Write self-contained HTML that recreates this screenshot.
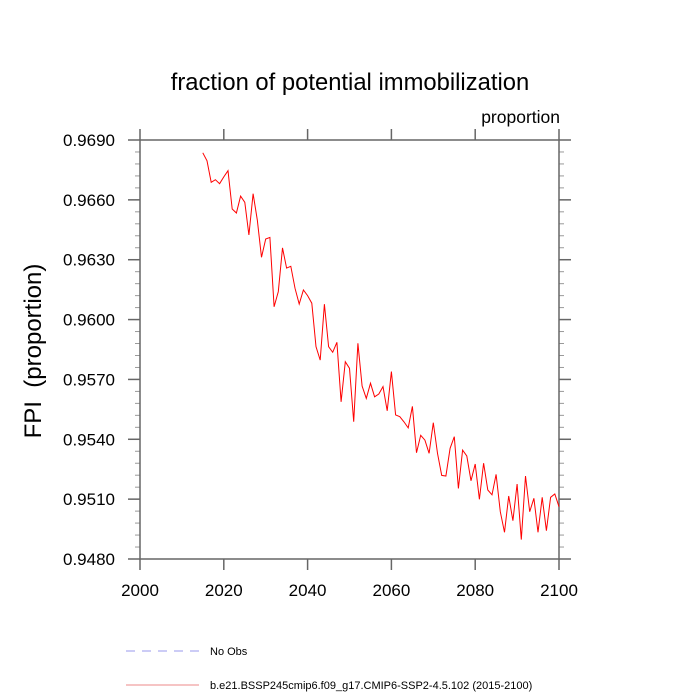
<!DOCTYPE html>
<html><head><meta charset="utf-8"><style>
body{margin:0;background:#fff;}
svg{display:block;font-family:"Liberation Sans",Arial,sans-serif;}
</style></head><body>
<svg id="chart" width="700" height="700" viewBox="0 0 700 700">
<text x="350" y="90" font-size="23.8" text-anchor="middle">fraction of potential immobilization</text>
<text x="560" y="123" font-size="17.5" text-anchor="end">proportion</text>
<text transform="translate(41,351) rotate(-90)" font-size="24" text-anchor="middle">FPI&#160;&#160;(proportion)</text>
<g id="axes"></g>
<g id="series"></g>
<line x1="126" y1="651" x2="199" y2="651" stroke="#9999ee" stroke-width="1" stroke-dasharray="9,7"/>
<text x="210" y="655" font-size="11">No Obs</text>
<line x1="126" y1="685" x2="199" y2="685" stroke="#ee8888" stroke-width="1"/>
<text x="210" y="689" font-size="11">b.e21.BSSP245cmip6.f09_g17.CMIP6-SSP2-4.5.102 (2015-2100)</text>
</svg>
<script>
const years = [];
for (let y = 2015; y <= 2100; y++) years.push(y);
const fpiValues = [0.96836,0.96796,0.96688,0.96701,0.96681,0.96715,0.96746,0.96554,0.96534,0.96619,
0.96588,0.96424,0.96631,0.96499,0.96312,0.96404,0.96412,0.96064,0.96140,0.96359,
0.96258,0.96267,0.96157,0.96078,0.96148,0.96120,0.96082,0.95864,0.95797,0.96077,
0.95864,0.95836,0.95886,0.95588,0.95789,0.95756,0.95488,0.95881,0.95667,0.95605,
0.95681,0.95613,0.95627,0.95664,0.95543,0.95739,0.95522,0.95513,0.95487,0.95457,
0.95565,0.95333,0.95420,0.95396,0.95330,0.95483,0.95330,0.95219,0.95216,0.95355,
0.95413,0.95154,0.95346,0.95316,0.95192,0.95276,0.95099,0.95280,0.95146,0.95122,
0.95224,0.95037,0.94934,0.95116,0.94992,0.95176,0.94897,0.95216,0.95037,0.95104,
0.94934,0.95109,0.94942,0.95109,0.95126,0.95062];
const xTicks = [2000,2020,2040,2060,2080,2100];
const yTicks = [0.9480,0.9510,0.9540,0.9570,0.9600,0.9630,0.9660,0.9690];
const L=140,R=559,T=140,B=559;
const xMin=2000,xMax=2100,yMin=0.948,yMax=0.969;
const sx=v=>L+(v-xMin)/(xMax-xMin)*(R-L);
const sy=v=>B-(v-yMin)/(yMax-yMin)*(B-T);
const NS="http://www.w3.org/2000/svg";
const axes=document.getElementById('axes');
function mk(tag,attrs,parent){const e=document.createElementNS(NS,tag);for(const k in attrs)e.setAttribute(k,attrs[k]);parent.appendChild(e);return e;}
for(let v=yMin;v<yMax-1e-9;v+=0.0006){
  const y=sy(v);
  mk('line',{x1:L-5,y1:y,x2:L,y2:y,stroke:'#999','stroke-width':1},axes);
  mk('line',{x1:R,y1:y,x2:R+5,y2:y,stroke:'#999','stroke-width':1},axes);
}
const frame=mk('rect',{x:L,y:T,width:R-L,height:B-T,fill:'none',stroke:'#666','stroke-width':1.5},axes);


xTicks.forEach(t=>{
  const x=sx(t);
  const a=mk('line',{x1:x,y1:B,x2:x,y2:B+11,stroke:'#666','stroke-width':1.5},axes);
  
  
  mk('line',{x1:x,y1:T,x2:x,y2:T-11,stroke:'#666','stroke-width':1.5},axes);
  const tx=mk('text',{x:x,y:B+37,'font-size':17,'text-anchor':'middle'},axes);
  tx.textContent=t;
  
  
});
yTicks.forEach(t=>{
  const y=sy(t);
  const a=mk('line',{x1:L-12,y1:y,x2:L,y2:y,stroke:'#666','stroke-width':1.5},axes);
  
  
  mk('line',{x1:R,y1:y,x2:R+12,y2:y,stroke:'#666','stroke-width':1.5},axes);
  const tx=mk('text',{x:L-25,y:y+6,'font-size':17,'text-anchor':'end'},axes);
  tx.textContent=t.toFixed(4);
  
  
});
const pts=years.map((yr,i)=>sx(yr).toFixed(1)+','+sy(fpiValues[i]).toFixed(1)).join(' ');
const line=mk('polyline',{points:pts,fill:'none',stroke:'#ff0000','stroke-width':1},document.getElementById('series'));


</script>
</body></html>
